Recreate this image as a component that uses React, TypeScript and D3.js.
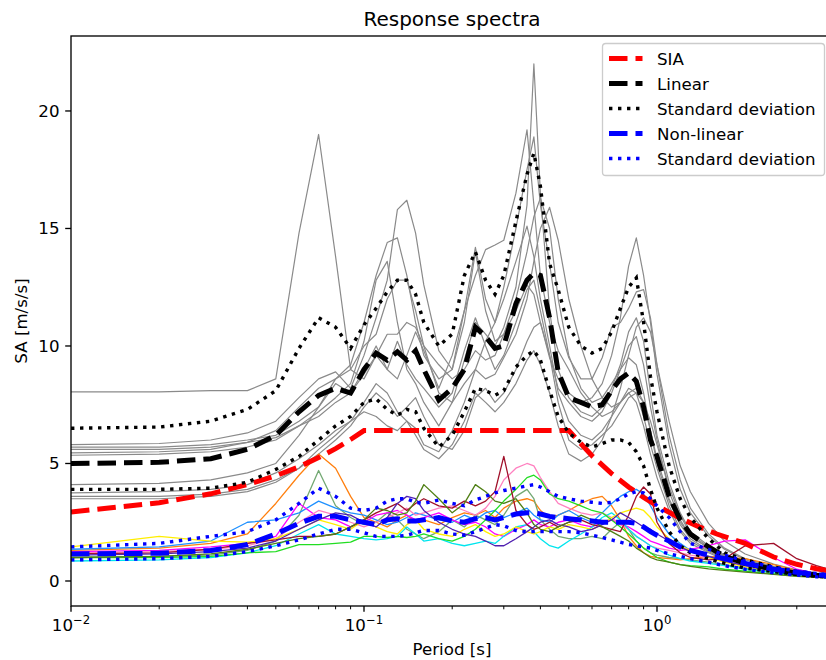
import React from 'react';
import * as d3 from 'd3';

// Periods [s] shared by all recorded spectra
const periods = [0.01, 0.02, 0.03, 0.04, 0.05, 0.06, 0.07, 0.08, 0.09, 0.10, 0.11, 0.12, 0.13, 0.14, 0.15, 0.16, 0.18, 0.20, 0.22, 0.24, 0.26, 0.28, 0.30, 0.33, 0.36, 0.38, 0.40, 0.43, 0.46, 0.50, 0.55, 0.60, 0.65, 0.70, 0.75, 0.80, 0.85, 0.90, 0.95, 1.0, 1.1, 1.2, 1.3, 1.5, 1.7, 2.0, 2.5, 3.0, 3.5, 4.0];

// Linear records (grey)
const lin1 = [8.05, 8.05, 8.1, 8.1, 8.6, 14.8, 19.0, 13.8, 9.0, 8.6, 9.6, 9.0, 10.2, 9.2, 8.6, 8.2, 7.4, 8.0, 9.8, 11.2, 10.0, 9.0, 9.6, 11.0, 12.4, 12.8, 11.5, 9.6, 8.2, 7.6, 7.0, 6.8, 7.2, 8.0, 9.0, 10.0, 10.4, 9.2, 7.4, 6.0, 3.8, 2.6, 1.9, 1.4, 1.05, 0.75, 0.5, 0.34, 0.25, 0.2];
const lin2 = [5.8, 5.85, 6.0, 6.3, 6.8, 7.8, 8.6, 8.9, 8.2, 9.6, 11.2, 12.8, 15.8, 16.2, 14.8, 12.6, 9.8, 9.0, 11.0, 14.0, 11.5, 10.2, 10.5, 11.5, 12.6, 12.2, 11.0, 9.5, 8.6, 8.0, 7.6, 7.8, 8.4, 9.6, 11.2, 13.4, 14.6, 13.0, 11.0, 8.8, 5.8, 3.9, 2.9, 1.9, 1.35, 0.9, 0.6, 0.42, 0.3, 0.23];
const lin3 = [5.7, 5.7, 5.8, 6.0, 6.2, 6.8, 7.4, 8.4, 8.0, 9.0, 10.0, 9.0, 8.6, 9.6, 10.6, 9.8, 8.2, 9.6, 11.5, 13.0, 14.1, 14.3, 14.5, 16.5, 19.2, 16.0, 13.0, 11.0, 9.8, 9.0, 8.0, 7.4, 7.0, 7.2, 7.6, 8.2, 8.0, 7.0, 5.8, 4.8, 3.2, 2.2, 1.7, 1.25, 0.95, 0.7, 0.48, 0.33, 0.24, 0.19];
const lin4 = [5.6, 5.6, 5.7, 5.9, 6.1, 6.6, 7.2, 7.8, 8.4, 10.2, 12.8, 13.6, 11.0, 9.0, 8.4, 7.6, 6.6, 7.6, 9.4, 11.0, 10.5, 10.0, 10.8, 12.5, 16.0, 22.0, 16.5, 11.5, 9.0, 7.8, 7.2, 7.0, 7.4, 8.2, 9.2, 10.6, 11.2, 10.2, 8.0, 6.2, 4.2, 2.9, 2.1, 1.5, 1.1, 0.8, 0.52, 0.36, 0.27, 0.2];
const lin5 = [5.45, 5.5, 5.6, 5.9, 6.4, 7.4, 8.2, 8.6, 9.2, 11.0, 13.0, 14.4, 14.6, 13.0, 11.0, 9.6, 8.6, 9.0, 11.5, 14.2, 12.0, 11.0, 12.5, 15.0, 17.5, 18.9, 16.0, 13.5, 11.0, 9.5, 8.6, 8.6, 9.5, 10.8, 11.0, 11.6, 12.3, 12.4, 11.2, 9.2, 6.2, 4.3, 3.1, 2.0, 1.4, 0.95, 0.62, 0.43, 0.31, 0.24];
const lin6 = [5.35, 5.4, 5.5, 5.7, 6.0, 6.6, 7.0, 7.6, 8.0, 8.8, 9.6, 10.5, 10.5, 11.0, 10.8, 10.0, 9.2, 8.6, 9.0, 9.8, 9.4, 9.6, 10.5, 12.0, 14.0, 15.5, 16.3, 15.0, 12.0, 9.6, 8.2, 7.6, 7.8, 8.4, 9.0, 9.5, 9.2, 8.0, 6.4, 5.0, 3.4, 2.4, 1.8, 1.3, 1.0, 0.72, 0.5, 0.34, 0.25, 0.19];
const lin7 = [4.1, 4.15, 4.3, 4.6, 5.0, 6.2, 7.4, 8.6, 9.0, 10.0, 10.5, 12.0, 12.8, 12.8, 11.5, 10.0, 8.0, 7.6, 8.4, 9.0, 8.6, 8.8, 9.5, 10.5, 12.0, 13.6, 15.0, 15.9, 14.5, 12.0, 10.0, 8.6, 7.8, 7.4, 7.6, 8.0, 8.2, 7.6, 6.4, 5.2, 3.5, 2.5, 1.9, 1.4, 1.05, 0.76, 0.52, 0.36, 0.26, 0.2];
const lin8 = [3.75, 3.8, 3.9, 4.1, 4.6, 5.2, 5.8, 6.4, 6.8, 7.2, 7.0, 6.6, 6.4, 6.8, 6.5, 5.8, 5.5, 6.4, 7.6, 9.0, 10.2, 11.0, 12.0, 13.6, 15.1, 13.8, 12.0, 10.0, 8.0, 6.8, 6.2, 6.0, 6.4, 7.0, 7.6, 8.0, 7.6, 6.6, 5.4, 4.4, 3.0, 2.1, 1.6, 1.2, 0.9, 0.65, 0.45, 0.31, 0.23, 0.18];
const lin9 = [3.6, 3.6, 3.7, 3.9, 4.3, 4.8, 5.4, 6.0, 6.6, 7.4, 8.0, 7.6, 7.0, 7.4, 7.8, 7.0, 5.8, 5.6, 6.4, 7.8, 8.2, 7.6, 8.0, 9.0, 10.2, 10.8, 11.0, 9.6, 7.6, 6.0, 5.6, 5.8, 6.2, 6.6, 7.2, 7.8, 8.0, 7.6, 6.8, 5.8, 4.0, 2.8, 2.0, 1.45, 1.1, 0.78, 0.53, 0.36, 0.27, 0.21];
const lin10 = [3.5, 3.5, 3.6, 3.8, 4.2, 4.8, 5.6, 6.2, 6.8, 7.6, 8.4, 8.0, 7.2, 6.8, 6.2, 5.6, 5.2, 5.8, 6.8, 8.0, 7.6, 7.2, 7.6, 8.4, 9.4, 9.8, 9.2, 8.0, 6.6, 5.4, 5.1, 5.4, 6.0, 7.0, 8.2, 9.6, 10.8, 11.2, 10.6, 9.2, 6.8, 4.9, 3.8, 2.45, 1.7, 1.15, 0.72, 0.48, 0.34, 0.26];
const linearRecords = [lin1, lin2, lin3, lin4, lin5, lin6, lin7, lin8, lin9, lin10];

// Non-linear records (coloured)
const nlOrange = [1.3, 1.4, 1.6, 2.0, 3.3, 4.5, 5.4, 4.8, 3.6, 2.7, 2.5, 2.3, 2.6, 2.8, 2.5, 2.6, 2.4, 2.7, 2.9, 2.8, 3.0, 2.7, 3.1, 3.4, 3.5, 3.4, 3.0, 2.7, 2.8, 3.0, 3.3, 3.5, 3.6, 3.2, 2.6, 1.9, 1.5, 1.2, 1.05, 1.0, 0.95, 0.9, 0.95, 1.05, 1.0, 0.95, 0.7, 0.45, 0.3, 0.22];
const nlSage = [1.0, 1.05, 1.1, 1.3, 1.7, 2.8, 4.7, 3.2, 2.7, 2.4, 2.5, 2.9, 2.6, 2.2, 2.0, 1.8, 2.1, 2.6, 2.3, 2.8, 2.6, 2.4, 2.8, 3.6, 3.9, 3.5, 2.6, 2.2, 1.9, 1.8, 1.8, 1.9, 1.8, 2.2, 2.5, 2.2, 1.7, 1.4, 1.2, 1.1, 1.0, 0.95, 0.9, 0.8, 0.7, 0.55, 0.4, 0.3, 0.22, 0.17];
const nlSky = [1.35, 1.45, 1.7, 2.5, 2.6, 2.9, 3.4, 3.1, 2.9, 2.8, 2.6, 2.4, 2.5, 2.7, 2.9, 2.8, 2.6, 2.5, 2.8, 2.6, 2.9, 3.0, 2.7, 2.9, 3.1, 2.8, 2.6, 2.5, 2.8, 3.0, 2.7, 2.5, 2.9, 3.3, 3.6, 3.8, 3.9, 3.7, 3.2, 2.7, 2.0, 1.6, 1.3, 1.05, 0.85, 0.65, 0.45, 0.32, 0.23, 0.18];
const nlMagenta = [1.25, 1.3, 1.45, 1.6, 1.9, 3.3, 2.7, 2.6, 2.3, 2.5, 2.8, 2.9, 3.0, 2.8, 2.6, 2.7, 2.9, 2.6, 2.4, 2.5, 2.3, 2.0, 1.9, 2.2, 2.4, 2.6, 2.4, 2.3, 2.5, 2.6, 2.4, 2.3, 2.5, 2.6, 2.4, 2.3, 2.1, 1.9, 1.7, 1.6, 1.4, 1.3, 1.35, 1.5, 1.7, 1.75, 1.0, 0.5, 0.3, 0.22];
const nlPink = [1.2, 1.25, 1.35, 1.5, 1.8, 2.5, 3.0, 2.8, 2.5, 2.3, 2.5, 2.7, 2.9, 3.1, 2.8, 2.9, 3.1, 3.2, 3.0, 2.8, 3.1, 3.6, 4.3, 4.8, 5.0, 4.9, 4.4, 3.8, 3.3, 3.1, 2.9, 2.8, 2.9, 2.7, 2.4, 2.2, 1.9, 1.7, 1.5, 1.4, 1.3, 1.2, 1.1, 1.0, 0.85, 0.65, 0.45, 0.32, 0.23, 0.18];
const nlCyan = [0.85, 0.9, 1.0, 1.2, 1.5, 2.0, 2.4, 2.0, 1.9, 1.8, 1.75, 1.8, 1.9, 2.3, 2.0, 1.7, 1.8, 1.6, 1.5, 1.6, 1.7, 1.6, 1.9, 2.3, 2.4, 2.1, 1.8, 1.5, 1.4, 1.7, 2.0, 2.3, 2.7, 2.9, 2.6, 2.2, 1.9, 1.7, 1.5, 1.35, 1.1, 0.95, 0.85, 0.75, 0.65, 0.5, 0.36, 0.26, 0.2, 0.15];
const nlYellow = [1.45, 1.9, 1.7, 1.65, 1.8, 2.2, 2.6, 2.4, 2.2, 2.6, 2.3, 2.1, 2.0, 2.4, 2.6, 2.2, 2.0, 1.9, 2.2, 2.4, 2.1, 1.9, 2.0, 2.3, 2.1, 2.0, 2.1, 2.3, 2.2, 2.4, 2.3, 2.2, 2.4, 2.7, 2.9, 3.0, 3.1, 3.0, 2.7, 2.3, 1.8, 1.5, 1.3, 1.0, 0.8, 0.6, 0.42, 0.3, 0.22, 0.17];
const nlLime = [1.0, 1.0, 1.05, 1.2, 1.25, 1.55, 1.55, 1.6, 1.65, 1.9, 1.9, 1.85, 1.9, 1.85, 1.9, 2.0, 1.8, 1.7, 1.9, 2.2, 2.6, 3.0, 3.4, 3.9, 4.4, 4.5, 4.3, 3.7, 3.5, 3.4, 3.2, 3.0, 2.9, 2.6, 2.3, 2.0, 1.7, 1.4, 1.2, 1.0, 0.8, 0.7, 0.65, 0.6, 0.5, 0.42, 0.3, 0.22, 0.17, 0.13];
const nlDarkRed = [1.15, 1.2, 1.35, 1.6, 1.75, 1.9, 1.9, 2.0, 2.3, 2.6, 2.9, 3.1, 3.3, 3.0, 3.3, 3.5, 3.2, 3.1, 3.4, 3.2, 3.4, 3.8, 5.3, 3.0, 2.4, 2.2, 2.3, 2.5, 2.3, 2.5, 2.6, 2.4, 2.3, 2.2, 2.1, 2.8, 3.6, 4.0, 3.7, 2.5, 1.6, 1.2, 1.0, 0.9, 0.95, 1.5, 1.6, 0.95, 0.65, 0.45];
const nlIndigo = [1.1, 1.15, 1.25, 1.4, 1.7, 2.2, 2.6, 2.9, 2.8, 2.5, 2.3, 2.7, 3.3, 3.6, 3.5, 3.0, 2.5, 2.2, 2.0, 1.9, 1.7, 1.5, 1.5, 1.8, 2.1, 2.3, 2.5, 2.6, 2.4, 2.3, 2.1, 2.2, 2.4, 2.6, 2.9, 2.7, 2.5, 2.3, 2.2, 2.0, 1.7, 1.45, 1.25, 1.05, 0.85, 0.65, 0.45, 0.32, 0.23, 0.17];
const nlOlive = [1.0, 1.05, 1.15, 1.35, 1.6, 1.8, 1.9, 2.0, 2.3, 2.6, 3.1, 3.0, 2.8, 2.9, 3.4, 4.1, 3.5, 2.9, 3.3, 4.1, 3.8, 3.4, 3.3, 3.5, 2.9, 2.4, 2.2, 2.1, 2.3, 2.5, 2.8, 2.6, 2.3, 2.1, 1.9, 1.7, 1.4, 1.2, 1.0, 0.9, 0.8, 0.7, 0.62, 0.52, 0.45, 0.38, 0.28, 0.2, 0.16, 0.12];
const nonLinearRecords = [nlOrange, nlSage, nlSky, nlMagenta, nlPink, nlCyan, nlYellow, nlLime, nlDarkRed, nlIndigo, nlOlive];
const nonLinearColors = ['#ff7f0e', '#72a872', '#1e90ff', '#ff00ff', '#ff80c0', '#00e5ee', '#ffee00', '#22dd22', '#a0102a', '#5020b0', '#4f7f14'];

// Summary curves
const linearMean = [5.0, 5.05, 5.2, 5.6, 6.2, 7.2, 7.9, 8.2, 8.0, 9.0, 9.7, 9.4, 9.75, 9.4, 9.8, 9.0, 7.7, 8.2, 9.0, 10.8, 10.4, 9.9, 10.0, 11.8, 12.8, 13.1, 13.0, 11.2, 8.9, 7.8, 7.6, 7.4, 7.5, 8.1, 8.6, 8.85, 8.5, 7.4, 6.0, 5.3, 3.6, 2.6, 2.0, 1.45, 1.05, 0.75, 0.5, 0.33, 0.25, 0.2];
const linearUpper = [6.5, 6.55, 6.8, 7.3, 8.1, 9.9, 11.2, 10.8, 9.9, 10.9, 11.6, 12.3, 12.8, 12.8, 12.2, 11.0, 10.0, 10.5, 13.0, 14.0, 12.8, 12.2, 13.0, 15.3, 17.3, 18.2, 16.8, 13.5, 12.4, 10.8, 10.0, 9.7, 9.9, 10.6, 11.6, 12.5, 12.9, 11.0, 8.7, 7.2, 4.9, 3.5, 2.7, 1.8, 1.2, 0.9, 0.6, 0.4, 0.3, 0.25];
const linearLower = [3.9, 3.9, 3.95, 4.2, 4.75, 5.3, 6.0, 6.6, 7.0, 7.6, 7.75, 7.3, 7.05, 7.3, 7.2, 6.5, 5.7, 6.2, 7.2, 8.2, 8.1, 7.9, 8.1, 9.1, 9.6, 9.8, 9.4, 8.1, 7.0, 6.3, 5.9, 5.7, 5.85, 6.0, 6.0, 5.9, 5.5, 4.9, 3.9, 3.1, 2.1, 1.5, 1.2, 0.95, 0.75, 0.55, 0.4, 0.28, 0.2, 0.16];
const nonLinearMean = [1.15, 1.18, 1.3, 1.55, 2.0, 2.45, 2.75, 2.75, 2.6, 2.5, 2.4, 2.6, 2.65, 2.55, 2.55, 2.6, 2.7, 2.55, 2.5, 2.65, 2.7, 2.6, 2.7, 2.85, 2.9, 2.9, 2.85, 2.75, 2.7, 2.65, 2.6, 2.55, 2.5, 2.5, 2.5, 2.5, 2.45, 2.3, 2.1, 1.95, 1.7, 1.45, 1.3, 1.1, 0.95, 0.75, 0.5, 0.37, 0.27, 0.2];
const nonLinearUpper = [1.45, 1.6, 1.9, 2.1, 2.6, 3.3, 3.95, 3.6, 3.1, 3.0, 3.1, 3.4, 3.5, 3.5, 3.35, 3.3, 3.45, 3.3, 3.2, 3.45, 3.6, 3.75, 3.85, 3.95, 4.05, 4.1, 4.0, 3.8, 3.6, 3.5, 3.4, 3.35, 3.3, 3.35, 3.5, 3.7, 3.8, 3.75, 3.5, 3.2, 2.7, 2.1, 1.6, 1.35, 1.1, 0.85, 0.58, 0.42, 0.32, 0.25];
const nonLinearLower = [0.9, 0.95, 1.05, 1.25, 1.5, 1.75, 2.0, 2.2, 2.2, 2.05, 1.9, 1.9, 1.9, 1.95, 2.05, 2.15, 2.15, 2.0, 1.95, 2.1, 2.25, 2.4, 2.35, 2.15, 2.1, 2.1, 2.1, 2.1, 2.1, 2.1, 2.05, 1.95, 1.85, 1.75, 1.65, 1.55, 1.5, 1.45, 1.4, 1.3, 1.15, 1.05, 0.95, 0.8, 0.65, 0.5, 0.35, 0.25, 0.18, 0.15];

// SIA design spectrum
const siaPeriods = [0.01, 0.02, 0.03, 0.04, 0.05, 0.06, 0.07, 0.08, 0.09, 0.1, 0.5, 0.6, 0.7, 0.8, 0.9, 1.0, 1.2, 1.4, 1.6, 1.8, 2.0, 2.5, 3.0, 3.5, 4.0];
const siaValues = [2.94, 3.33, 3.71, 4.10, 4.48, 4.86, 5.25, 5.63, 6.02, 6.40, 6.40, 5.33, 4.57, 4.00, 3.56, 3.20, 2.67, 2.29, 2.00, 1.78, 1.60, 1.02, 0.71, 0.52, 0.40];

const yTicks = [0, 5, 10, 15, 20];
const xMajorTicks = [0.01, 0.1, 1];
const xMajorExp = ['−2', '−1', '0'];
const xMinorTicks = [0.02, 0.03, 0.04, 0.05, 0.06, 0.07, 0.08, 0.09, 0.2, 0.3, 0.4, 0.5, 0.6, 0.7, 0.8, 0.9, 2, 3];

const legendItems = [
  { label: 'SIA', color: '#ff0000', kind: 'dash' },
  { label: 'Linear', color: '#000000', kind: 'dash' },
  { label: 'Standard deviation', color: '#000000', kind: 'dot' },
  { label: 'Non-linear', color: '#0000ff', kind: 'dash' },
  { label: 'Standard deviation', color: '#0000ff', kind: 'dot' },
];

const FONT = 'DejaVu Sans, Verdana, sans-serif';

export default function App() {
  const L = 71, T = 36, R = 833.4, B = 606;
  const x = d3.scaleLog().domain([0.01, 4]).range([L, R]);
  const y = d3.scaleLinear().domain([-1.064, 23.19]).range([B, T]);
  const path = (ts: number[], vs: number[]) =>
    d3.line<number>().x((_, i) => x(ts[i])).y((v) => y(v))(vs) || '';

  const dashW = 5;
  const dotW = 3.4;
  const dashArr = `${3.7 * dashW} ${1.6 * dashW}`;
  const dotArr = `${dotW} ${1.65 * dotW}`;

  return (
    <svg width={826} height={660} style={{ position: 'absolute', left: 0, top: 0, background: '#fff' }} fontFamily={FONT}>
      <defs>
        <clipPath id="plotClip">
          <rect x={L} y={T} width={R - L} height={B - T} />
        </clipPath>
      </defs>
      <rect x={0} y={0} width={826} height={660} fill="#fff" />
      <g clipPath="url(#plotClip)" fill="none">
        {linearRecords.map((r, i) => (
          <path key={'l' + i} d={path(periods, r)} stroke="#8a8a8a" strokeWidth={1.2} strokeLinejoin="round" />
        ))}
        {nonLinearRecords.map((r, i) => (
          <path key={'n' + i} d={path(periods, r)} stroke={nonLinearColors[i]} strokeWidth={1.3} strokeLinejoin="round" />
        ))}
        <path d={path(siaPeriods, siaValues)} stroke="#ff0000" strokeWidth={dashW} strokeDasharray={dashArr} />
        <path d={path(periods, linearMean)} stroke="#000" strokeWidth={dashW} strokeDasharray={dashArr} />
        <path d={path(periods, linearUpper)} stroke="#000" strokeWidth={dotW} strokeDasharray={dotArr} />
        <path d={path(periods, linearLower)} stroke="#000" strokeWidth={dotW} strokeDasharray={dotArr} />
        <path d={path(periods, nonLinearMean)} stroke="#0000ff" strokeWidth={dashW} strokeDasharray={dashArr} />
        <path d={path(periods, nonLinearUpper)} stroke="#0000ff" strokeWidth={dotW} strokeDasharray={dotArr} />
        <path d={path(periods, nonLinearLower)} stroke="#0000ff" strokeWidth={dotW} strokeDasharray={dotArr} />
      </g>

      {/* spines */}
      <rect x={L} y={T} width={R - L} height={B - T} fill="none" stroke="#000" strokeWidth={1.33} />

      {/* y ticks */}
      {yTicks.map((t) => (
        <g key={'yt' + t}>
          <line x1={L} x2={L - 5.8} y1={y(t)} y2={y(t)} stroke="#000" strokeWidth={1.33} />
          <text x={L - 11.5} y={y(t)} dy="0.36em" textAnchor="end" fontSize={16.67} fill="#000">{t}</text>
        </g>
      ))}

      {/* x ticks */}
      {xMinorTicks.map((t) => (
        <line key={'xm' + t} x1={x(t)} x2={x(t)} y1={B} y2={B + 3.3} stroke="#000" strokeWidth={1} />
      ))}
      {xMajorTicks.map((t, i) => (
        <g key={'xt' + t}>
          <line x1={x(t)} x2={x(t)} y1={B} y2={B + 5.8} stroke="#000" strokeWidth={1.33} />
          <text x={x(t)} y={631} textAnchor="middle" fontSize={16.67} fill="#000">
            <tspan>10</tspan>
            <tspan dy={-7.5} fontSize={11.7}>{xMajorExp[i]}</tspan>
          </text>
        </g>
      ))}

      {/* labels */}
      <text x={452} y={26} textAnchor="middle" fontSize={20} fill="#000">Response spectra</text>
      <text x={452} y={655} textAnchor="middle" fontSize={16.67} fill="#000">Period [s]</text>
      <text transform={`translate(27,${(T + B) / 2}) rotate(-90)`} textAnchor="middle" fontSize={16.67} fill="#000">SA [m/s/s]</text>

      {/* legend */}
      <g>
        <rect x={602.5} y={43.5} width={222} height={132} rx={3.3} fill="#fff" fillOpacity={0.8} stroke="#cccccc" strokeWidth={1.33} />
        {legendItems.map((it, i) => {
          const cy = 58.5 + i * 25;
          return (
            <g key={'lg' + i}>
              <line x1={609} x2={642.5} y1={cy} y2={cy} stroke={it.color}
                strokeWidth={it.kind === 'dash' ? dashW : dotW}
                strokeDasharray={it.kind === 'dash' ? dashArr : dotArr} />
              <text x={657} y={cy} dy="0.36em" fontSize={16.67} fill="#000">{it.label}</text>
            </g>
          );
        })}
      </g>
    </svg>
  );
}
